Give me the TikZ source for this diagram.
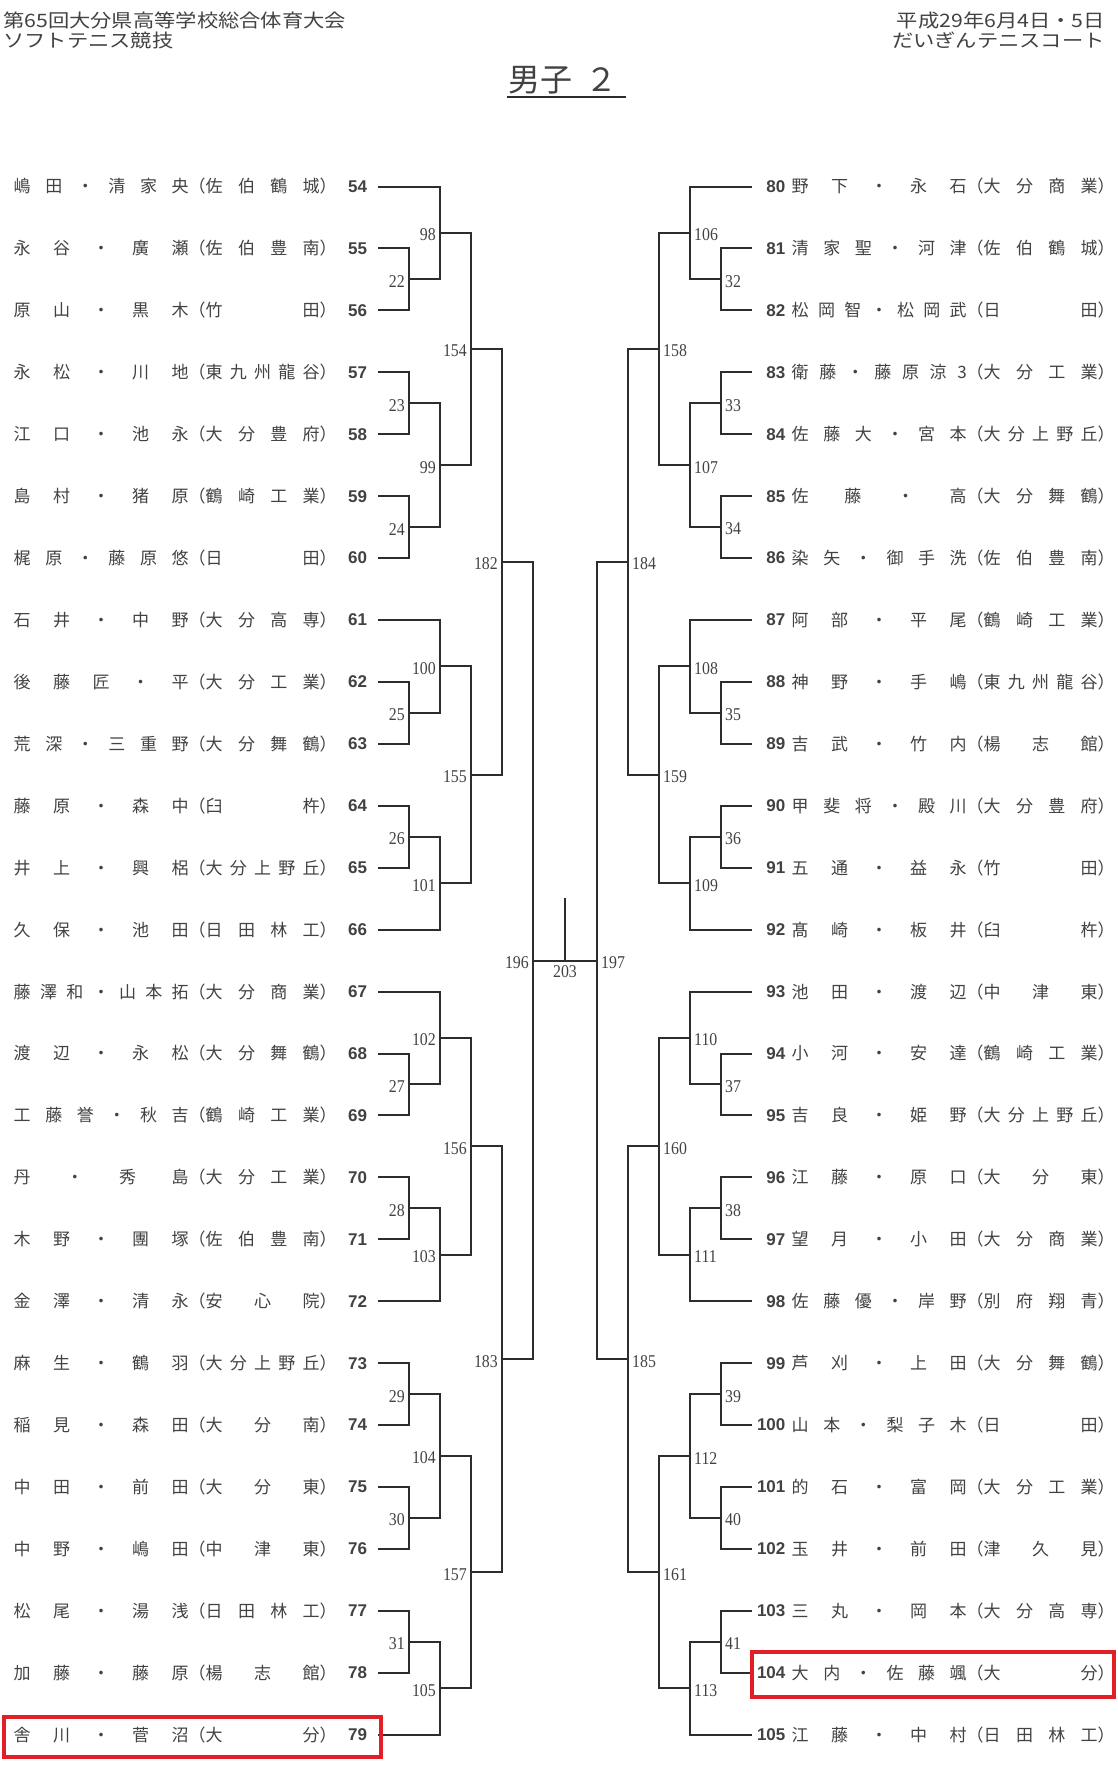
\documentclass[tikz,border=0pt]{standalone}
\usepackage{fontspec}
\setmainfont{Liberation Serif}
\newfontfamily\jpfont{Noto Sans CJK JP}
\newfontfamily\hdfont[FakeStretch=1.15]{Noto Sans CJK JP}
\newfontfamily\numfont{Liberation Sans}
\newfontfamily\mnofont[FakeStretch=0.88]{Liberation Serif}
\usetikzlibrary{calc,positioning}
\definecolor{inkgray}{RGB}{66,66,66}
\definecolor{linegray}{RGB}{45,45,45}
\definecolor{markred}{RGB}{226,30,38}

% one pair on the left / right half, row from the entry number
\newcommand\lteam[3]{%
  \coordinate (t#1) at (378,{186.5+61.93*(#1-54)});
  \node[tno, anchor=west] (no#1) at (348,{186.5+61.93*(#1-54)}) {#1};
  \node[pair] (n#1) at (13.5,{186.5+61.93*(#1-54)}) {\makebox[175pt][s]{#2}（\makebox[114pt][s]{#3}）};}
\newcommand\rteam[3]{%
  \coordinate (t#1) at (752,{186.5+61.93*(#1-80)});
  \node[tno, anchor=east] (no#1) at (785.6,{186.5+61.93*(#1-80)}) {#1};
  \node[pair] (n#1) at (791.5,{186.5+61.93*(#1-80)}) {\makebox[175pt][s]{#2}（\makebox[114pt][s]{#3}）};}
% bracket: match no, upper input, lower input, level, label side
\newcommand\match[5]{%
  \path ($(#2)!.5!(#3)$) coordinate (h#1);
  \coordinate (m#1) at (#4 |- h#1);
  \draw[bk] (#2) -| (m#1) |- (#3);
  \node[mno, #5] at (m#1) {#1};}

\begin{document}
\begin{tikzpicture}[x=1pt, y=-1pt,
    bk/.style={draw=linegray, line width=2pt},
    pair/.style={inner sep=0pt, anchor=west, text=inkgray, font=\jpfont\fontsize{17}{17}\selectfont},
    tno/.style={inner sep=0pt, text=inkgray, font=\numfont\bfseries\fontsize{17}{17}\selectfont},
    mno/.style={inner sep=0pt, text=inkgray, font=\mnofont\fontsize{18}{18}\selectfont},
    mnoL/.style={anchor=east, xshift=-4pt, yshift=-2pt},
    mnoR/.style={anchor=west, xshift=4pt, yshift=-2pt},
    hd/.style={inner sep=0pt, text=inkgray, font=\hdfont\fontsize{18.5}{18.5}\selectfont},
    ttl/.style={inner sep=0pt, text=inkgray, font=\jpfont\fontsize{32}{32}\selectfont},
    hilite/.style={draw=markred, line width=3.3pt}]
  \useasboundingbox[fill=white] (0,0) rectangle (1117,1767);

  % heading
  \node[hd, anchor=west] (hdA) at (3,20) {第65回大分県高等学校総合体育大会};
  \node[hd, anchor=west] (hdB) at (3,40) {ソフトテニス競技};
  \node[hd, anchor=east] (hdC) at (1105,20) {平成29年6月4日・5日};
  \node[hd, anchor=east] (hdD) at (1105,40) {だいぎんテニスコート};
  \node[ttl, anchor=west] (title) at (508,80) {男子\hspace{13pt}２};
  \draw[draw=linegray, line width=2pt] (507,97) -- (626,97);

  % bracket levels
  \coordinate (L1) at (409,0);  \coordinate (R1) at (721,0);
  \coordinate (L2) at (440,0);  \coordinate (R2) at (690,0);
  \coordinate (L3) at (471,0);  \coordinate (R3) at (659,0);
  \coordinate (L4) at (502,0);  \coordinate (R4) at (628,0);
  \coordinate (L5) at (533,0);  \coordinate (R5) at (597,0);

  % left half
  \lteam{54}{嶋 田 ・ 清 家 央}{佐 伯 鶴 城}
  \lteam{55}{永 谷 ・ 廣 瀬}{佐 伯 豊 南}
  \lteam{56}{原 山 ・ 黒 木}{竹 田}
  \lteam{57}{永 松 ・ 川 地}{東 九 州 龍 谷}
  \lteam{58}{江 口 ・ 池 永}{大 分 豊 府}
  \lteam{59}{島 村 ・ 猪 原}{鶴 崎 工 業}
  \lteam{60}{梶 原 ・ 藤 原 悠}{日 田}
  \lteam{61}{石 井 ・ 中 野}{大 分 高 専}
  \lteam{62}{後 藤 匠 ・ 平}{大 分 工 業}
  \lteam{63}{荒 深 ・ 三 重 野}{大 分 舞 鶴}
  \lteam{64}{藤 原 ・ 森 中}{臼 杵}
  \lteam{65}{井 上 ・ 興 梠}{大 分 上 野 丘}
  \lteam{66}{久 保 ・ 池 田}{日 田 林 工}
  \lteam{67}{藤 澤 和 ・ 山 本 拓}{大 分 商 業}
  \lteam{68}{渡 辺 ・ 永 松}{大 分 舞 鶴}
  \lteam{69}{工 藤 誉 ・ 秋 吉}{鶴 崎 工 業}
  \lteam{70}{丹 ・ 秀 島}{大 分 工 業}
  \lteam{71}{木 野 ・ 團 塚}{佐 伯 豊 南}
  \lteam{72}{金 澤 ・ 清 永}{安 心 院}
  \lteam{73}{麻 生 ・ 鶴 羽}{大 分 上 野 丘}
  \lteam{74}{稲 見 ・ 森 田}{大 分 南}
  \lteam{75}{中 田 ・ 前 田}{大 分 東}
  \lteam{76}{中 野 ・ 嶋 田}{中 津 東}
  \lteam{77}{松 尾 ・ 湯 浅}{日 田 林 工}
  \lteam{78}{加 藤 ・ 藤 原}{楊 志 館}
  \lteam{79}{舎 川 ・ 菅 沼}{大 分}

  \match{22}{t55}{t56}{L1}{mnoL}
  \match{98}{t54}{m22}{L2}{mnoL}
  \match{23}{t57}{t58}{L1}{mnoL}
  \match{24}{t59}{t60}{L1}{mnoL}
  \match{99}{m23}{m24}{L2}{mnoL}
  \match{154}{m98}{m99}{L3}{mnoL}
  \match{25}{t62}{t63}{L1}{mnoL}
  \match{100}{t61}{m25}{L2}{mnoL}
  \match{26}{t64}{t65}{L1}{mnoL}
  \match{101}{m26}{t66}{L2}{mnoL}
  \match{155}{m100}{m101}{L3}{mnoL}
  \match{182}{m154}{m155}{L4}{mnoL}
  \match{27}{t68}{t69}{L1}{mnoL}
  \match{102}{t67}{m27}{L2}{mnoL}
  \match{28}{t70}{t71}{L1}{mnoL}
  \match{103}{m28}{t72}{L2}{mnoL}
  \match{156}{m102}{m103}{L3}{mnoL}
  \match{29}{t73}{t74}{L1}{mnoL}
  \match{30}{t75}{t76}{L1}{mnoL}
  \match{104}{m29}{m30}{L2}{mnoL}
  \match{31}{t77}{t78}{L1}{mnoL}
  \match{105}{m31}{t79}{L2}{mnoL}
  \match{157}{m104}{m105}{L3}{mnoL}
  \match{183}{m156}{m157}{L4}{mnoL}
  \match{196}{m182}{m183}{L5}{mnoL}

  % right half
  \rteam{80}{野 下 ・ 永 石}{大 分 商 業}
  \rteam{81}{清 家 聖 ・ 河 津}{佐 伯 鶴 城}
  \rteam{82}{松 岡 智 ・ 松 岡 武}{日 田}
  \rteam{83}{衛 藤 ・ 藤 原 涼 3}{大 分 工 業}
  \rteam{84}{佐 藤 大 ・ 宮 本}{大 分 上 野 丘}
  \rteam{85}{佐 藤 ・ 高}{大 分 舞 鶴}
  \rteam{86}{染 矢 ・ 御 手 洗}{佐 伯 豊 南}
  \rteam{87}{阿 部 ・ 平 尾}{鶴 崎 工 業}
  \rteam{88}{神 野 ・ 手 嶋}{東 九 州 龍 谷}
  \rteam{89}{吉 武 ・ 竹 内}{楊 志 館}
  \rteam{90}{甲 斐 将 ・ 殿 川}{大 分 豊 府}
  \rteam{91}{五 通 ・ 益 永}{竹 田}
  \rteam{92}{髙 崎 ・ 板 井}{臼 杵}
  \rteam{93}{池 田 ・ 渡 辺}{中 津 東}
  \rteam{94}{小 河 ・ 安 達}{鶴 崎 工 業}
  \rteam{95}{吉 良 ・ 姫 野}{大 分 上 野 丘}
  \rteam{96}{江 藤 ・ 原 口}{大 分 東}
  \rteam{97}{望 月 ・ 小 田}{大 分 商 業}
  \rteam{98}{佐 藤 優 ・ 岸 野}{別 府 翔 青}
  \rteam{99}{芦 刈 ・ 上 田}{大 分 舞 鶴}
  \rteam{100}{山 本 ・ 梨 子 木}{日 田}
  \rteam{101}{的 石 ・ 富 岡}{大 分 工 業}
  \rteam{102}{玉 井 ・ 前 田}{津 久 見}
  \rteam{103}{三 丸 ・ 岡 本}{大 分 高 専}
  \rteam{104}{大 内 ・ 佐 藤 颯}{大 分}
  \rteam{105}{江 藤 ・ 中 村}{日 田 林 工}

  \match{32}{t81}{t82}{R1}{mnoR}
  \match{106}{t80}{m32}{R2}{mnoR}
  \match{33}{t83}{t84}{R1}{mnoR}
  \match{34}{t85}{t86}{R1}{mnoR}
  \match{107}{m33}{m34}{R2}{mnoR}
  \match{158}{m106}{m107}{R3}{mnoR}
  \match{35}{t88}{t89}{R1}{mnoR}
  \match{108}{t87}{m35}{R2}{mnoR}
  \match{36}{t90}{t91}{R1}{mnoR}
  \match{109}{m36}{t92}{R2}{mnoR}
  \match{159}{m108}{m109}{R3}{mnoR}
  \match{184}{m158}{m159}{R4}{mnoR}
  \match{37}{t94}{t95}{R1}{mnoR}
  \match{110}{t93}{m37}{R2}{mnoR}
  \match{38}{t96}{t97}{R1}{mnoR}
  \match{111}{m38}{t98}{R2}{mnoR}
  \match{160}{m110}{m111}{R3}{mnoR}
  \match{39}{t99}{t100}{R1}{mnoR}
  \match{40}{t101}{t102}{R1}{mnoR}
  \match{112}{m39}{m40}{R2}{mnoR}
  \match{41}{t103}{t104}{R1}{mnoR}
  \match{113}{m41}{t105}{R2}{mnoR}
  \match{161}{m112}{m113}{R3}{mnoR}
  \match{185}{m160}{m161}{R4}{mnoR}
  \match{197}{m184}{m185}{R5}{mnoR}

  % final
  \coordinate (m203) at ($(m196)!.5!(m197)$);
  \coordinate (top203) at ($(m203)+(0,-63)$);
  \draw[bk] (m196) -- (m197);
  \draw[bk] (m203) -- (top203);
  \node[mno, below=5pt of m203] (lb203) {203};

  % highlighted entries
  \draw[hilite] (4,1717) rectangle (381,1757);
  \draw[hilite] (752,1652) rectangle (1114,1697);
\end{tikzpicture}
\end{document}
